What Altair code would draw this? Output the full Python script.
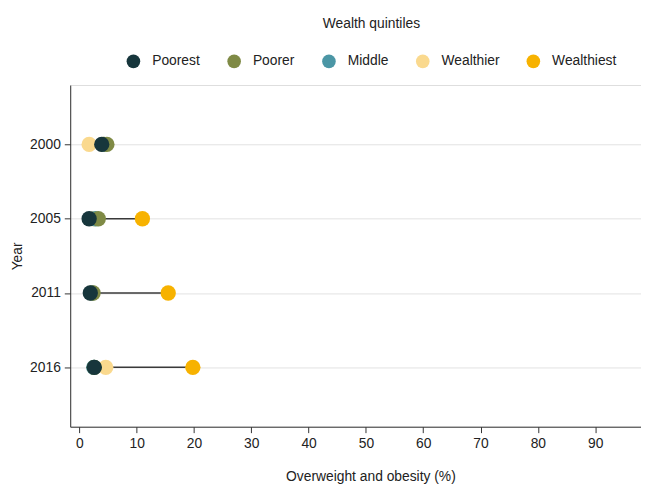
import altair as alt
import pandas as pd

years = ["2000", "2005", "2011", "2016"]
quintiles = ["Poorest", "Poorer", "Middle", "Wealthier", "Wealthiest"]
colors = ["#17363c", "#7f8a45", "#4b96a5", "#fad98e", "#f7b200"]

poorest = [3.9, 1.7, 1.9, 2.6]
poorer = [4.8, 3.3, 2.4, 2.6]
middle = [4.3, 2.8, 2.2, 2.5]
wealthier = [1.7, 2.5, 2.1, 4.6]
wealthiest = [4.2, 11.0, 15.5, 19.8]

series = {
    "Poorest": poorest,
    "Poorer": poorer,
    "Middle": middle,
    "Wealthier": wealthier,
    "Wealthiest": wealthiest,
}

# draw order: wealthiest first, poorest last (on top)
draw_order = ["Wealthiest", "Wealthier", "Middle", "Poorer", "Poorest"]
rows = []
for q in draw_order:
    for y, v in zip(years, series[q]):
        rows.append({"Year": y, "Quintile": q, "Value": v})
points_df = pd.DataFrame(rows)

lines_df = pd.DataFrame({"Year": years, "lo": poorest, "hi": wealthiest})

FONT = "Liberation Sans"

y_enc = alt.Y(
    "Year:N",
    scale=alt.Scale(type="point", padding=0.8),
    sort=years,
    axis=alt.Axis(
        title="Year",
        grid=True,
        gridColor="#e2e2e2",
        gridWidth=1,
        domainColor="#333333",
        tickColor="#333333",
        tickSize=6,
        labelFontSize=14,
        labelPadding=4,
        labelColor="#222222",
        titleFontSize=14,
        titleFontWeight="normal",
        titleColor="#222222",
        titlePadding=5,
    ),
)

x_scale = alt.Scale(domain=[-1.6, 98], nice=False, zero=False)
x_axis = alt.Axis(
    title="Overweight and obesity (%)",
    values=[0, 10, 20, 30, 40, 50, 60, 70, 80, 90],
    grid=False,
    domainColor="#333333",
    tickColor="#333333",
    tickSize=6,
    labelFontSize=14,
    labelPadding=4,
    labelColor="#222222",
    titleFontSize=14,
    titleFontWeight="normal",
    titleColor="#222222",
    titlePadding=19,
    titleX=304,
)

rules = alt.Chart(lines_df).mark_rule(color="#3a3a3a", strokeWidth=1.6).encode(
    x=alt.X("lo:Q", scale=x_scale, axis=x_axis),
    x2="hi:Q",
    y=y_enc,
)

pts = alt.Chart(points_df).mark_point(filled=True, opacity=1, size=240, strokeWidth=0).encode(
    x=alt.X("Value:Q", scale=x_scale, axis=x_axis),
    y=y_enc,
    color=alt.Color(
        "Quintile:N",
        scale=alt.Scale(domain=quintiles, range=colors),
        sort=quintiles,
        legend=alt.Legend(
            title="Wealth quintiles",
            orient="none",
            legendX=57,
            legendY=-69,
            direction="horizontal",
            columns=5,
            titleAnchor="middle",
            titleOrient="top",
            titlePadding=24,
            titleFontSize=14,
            titleFontWeight="normal",
            titleColor="#222222",
            labelFontSize=14,
            labelColor="#222222",
            labelOffset=12,
            columnPadding=27,
            symbolSize=190,
            symbolType="circle",
            symbolStrokeWidth=0,
            symbolOpacity=1,
        ),
    ),
)

chart = (
    alt.layer(rules, pts)
    .properties(
        width=578,
        height=346,
        autosize=alt.AutoSizeParams(type="none"),
        padding={"left": 63, "top": 75, "right": 0, "bottom": 55},
        background="white",
    )
    .configure_view(stroke=None)
    .configure(font=FONT)
)

chart.save("out.html", embed_options={"renderer": "svg", "actions": False})
